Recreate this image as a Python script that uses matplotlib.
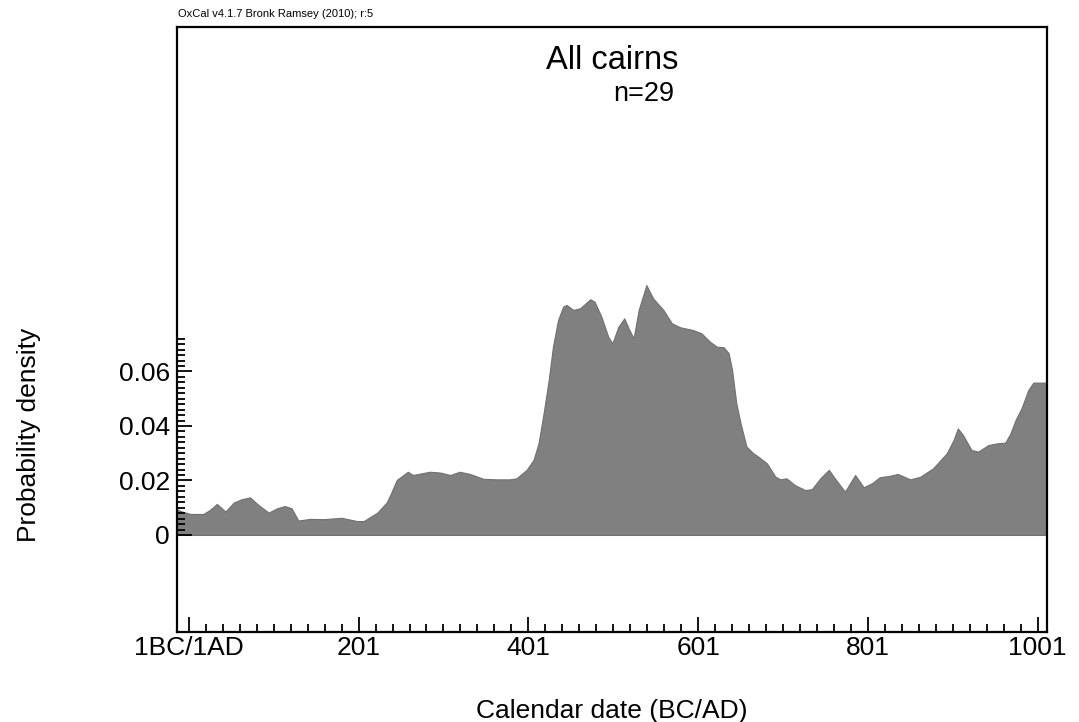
import matplotlib.pyplot as plt
import numpy as np

plt.rcParams['font.family'] = ['Liberation Sans', 'DejaVu Sans']

# summed probability
years = np.array([-13, -7, 3, 18, 26, 34, 44, 54, 63, 73, 83, 95, 105, 114, 122,
                  130, 144, 160, 181, 199, 207, 223, 234, 238, 246, 259, 265,
                  285, 297, 309, 320, 332, 348, 364, 379, 387, 399, 407, 413,
                  419, 425, 430, 436, 442, 446, 454, 462, 474, 479, 487, 495,
                  500, 507, 514, 520, 525, 531, 540, 548, 560, 570, 580, 595,
                  605, 615, 623, 631, 637, 641, 646, 651, 658, 666, 672, 682,
                  692, 698, 705, 715, 727, 735, 745, 755, 762, 774, 786, 796,
                  806, 815, 827, 836, 851, 863, 878, 894, 902, 907, 913, 923,
                  931, 943, 953, 963, 969, 975, 982, 990, 996, 1012])
density = np.array([0.0094, 0.0086, 0.0077, 0.0077, 0.0092, 0.0114, 0.0086, 0.0119,
                    0.0131, 0.0138, 0.0110, 0.0082, 0.0098, 0.0106, 0.0098,
                    0.0053, 0.0059, 0.0058, 0.0063, 0.0051, 0.0051, 0.0082,
                    0.0119, 0.0145, 0.0202, 0.0232, 0.0220, 0.0232, 0.0229,
                    0.0220, 0.0232, 0.0224, 0.0206, 0.0204, 0.0204, 0.0208,
                    0.0239, 0.0275, 0.0336, 0.0447, 0.0569, 0.0691, 0.0789,
                    0.0838, 0.0844, 0.0826, 0.0832, 0.0865, 0.0856, 0.0801,
                    0.0728, 0.0703, 0.0764, 0.0795, 0.0752, 0.0722, 0.0826,
                    0.0917, 0.0868, 0.0826, 0.0777, 0.0762, 0.0752, 0.0740,
                    0.0709, 0.0691, 0.0689, 0.0667, 0.0606, 0.0483, 0.0410,
                    0.0324, 0.0300, 0.0287, 0.0263, 0.0214, 0.0204, 0.0208,
                    0.0183, 0.0165, 0.0168, 0.0208, 0.0239, 0.0208, 0.0159,
                    0.0220, 0.0175, 0.0190, 0.0212, 0.0217, 0.0224, 0.0204,
                    0.0214, 0.0245, 0.0300, 0.0349, 0.0391, 0.0367, 0.0312,
                    0.0306, 0.0330, 0.0336, 0.0339, 0.0373, 0.0422, 0.0465,
                    0.0532, 0.0559, 0.0559])

x_major = [1, 201, 401, 601, 801, 1001]
x_labels = ['1BC/1AD', '201', '401', '601', '801', '1001']
y_major = [0, 0.02, 0.04, 0.06]
y_labels = ['0', '0.02', '0.04', '0.06']

fig = plt.figure(figsize=(10.79, 7.22), dpi=100)
ax = fig.add_axes([0.164, 0.1247, 0.8063, 0.8379])

ax.fill_between(years, 0, density, color='#808080', linewidth=0.8, edgecolor='#707070')

ax.set_xlim(-13, 1012)
ax.set_ylim(-0.0356, 0.1864)

ax.set_xticks(x_major)
ax.set_xticklabels(x_labels)
ax.set_xticks(np.arange(1, 1002, 20), minor=True)
ax.set_yticks(y_major)
ax.set_yticklabels(y_labels)
ax.set_yticks(np.arange(0, 0.0721, 0.002), minor=True)

ax.tick_params(which='both', direction='in', top=False, right=False,
               labelsize=19, width=1.3, color='black')
ax.tick_params(which='major', length=11)
ax.tick_params(which='minor', length=6)
ax.tick_params(axis='x', pad=3)
ax.tick_params(axis='y', pad=5)

for s in ax.spines.values():
    s.set_linewidth(1.6)

ax.set_xlabel('Calendar date (BC/AD)', fontsize=19, labelpad=28)
ax.set_ylabel('Probability density', fontsize=19)
ax.yaxis.set_label_coords(-0.156, 0.5 - (435 - 329.5) / 605)

ax.text(0.5, 0.945, 'All cairns', transform=ax.transAxes, ha='center', va='center', fontsize=23.5)
ax.text(0.537, 0.889, 'n=29', transform=ax.transAxes, ha='center', va='center', fontsize=19.5)
fig.text(178 / 1079, 1 - 14 / 722, 'OxCal v4.1.7 Bronk Ramsey (2010); r:5', ha='left', va='center', fontsize=8)

fig.savefig('out.png', dpi=100)
